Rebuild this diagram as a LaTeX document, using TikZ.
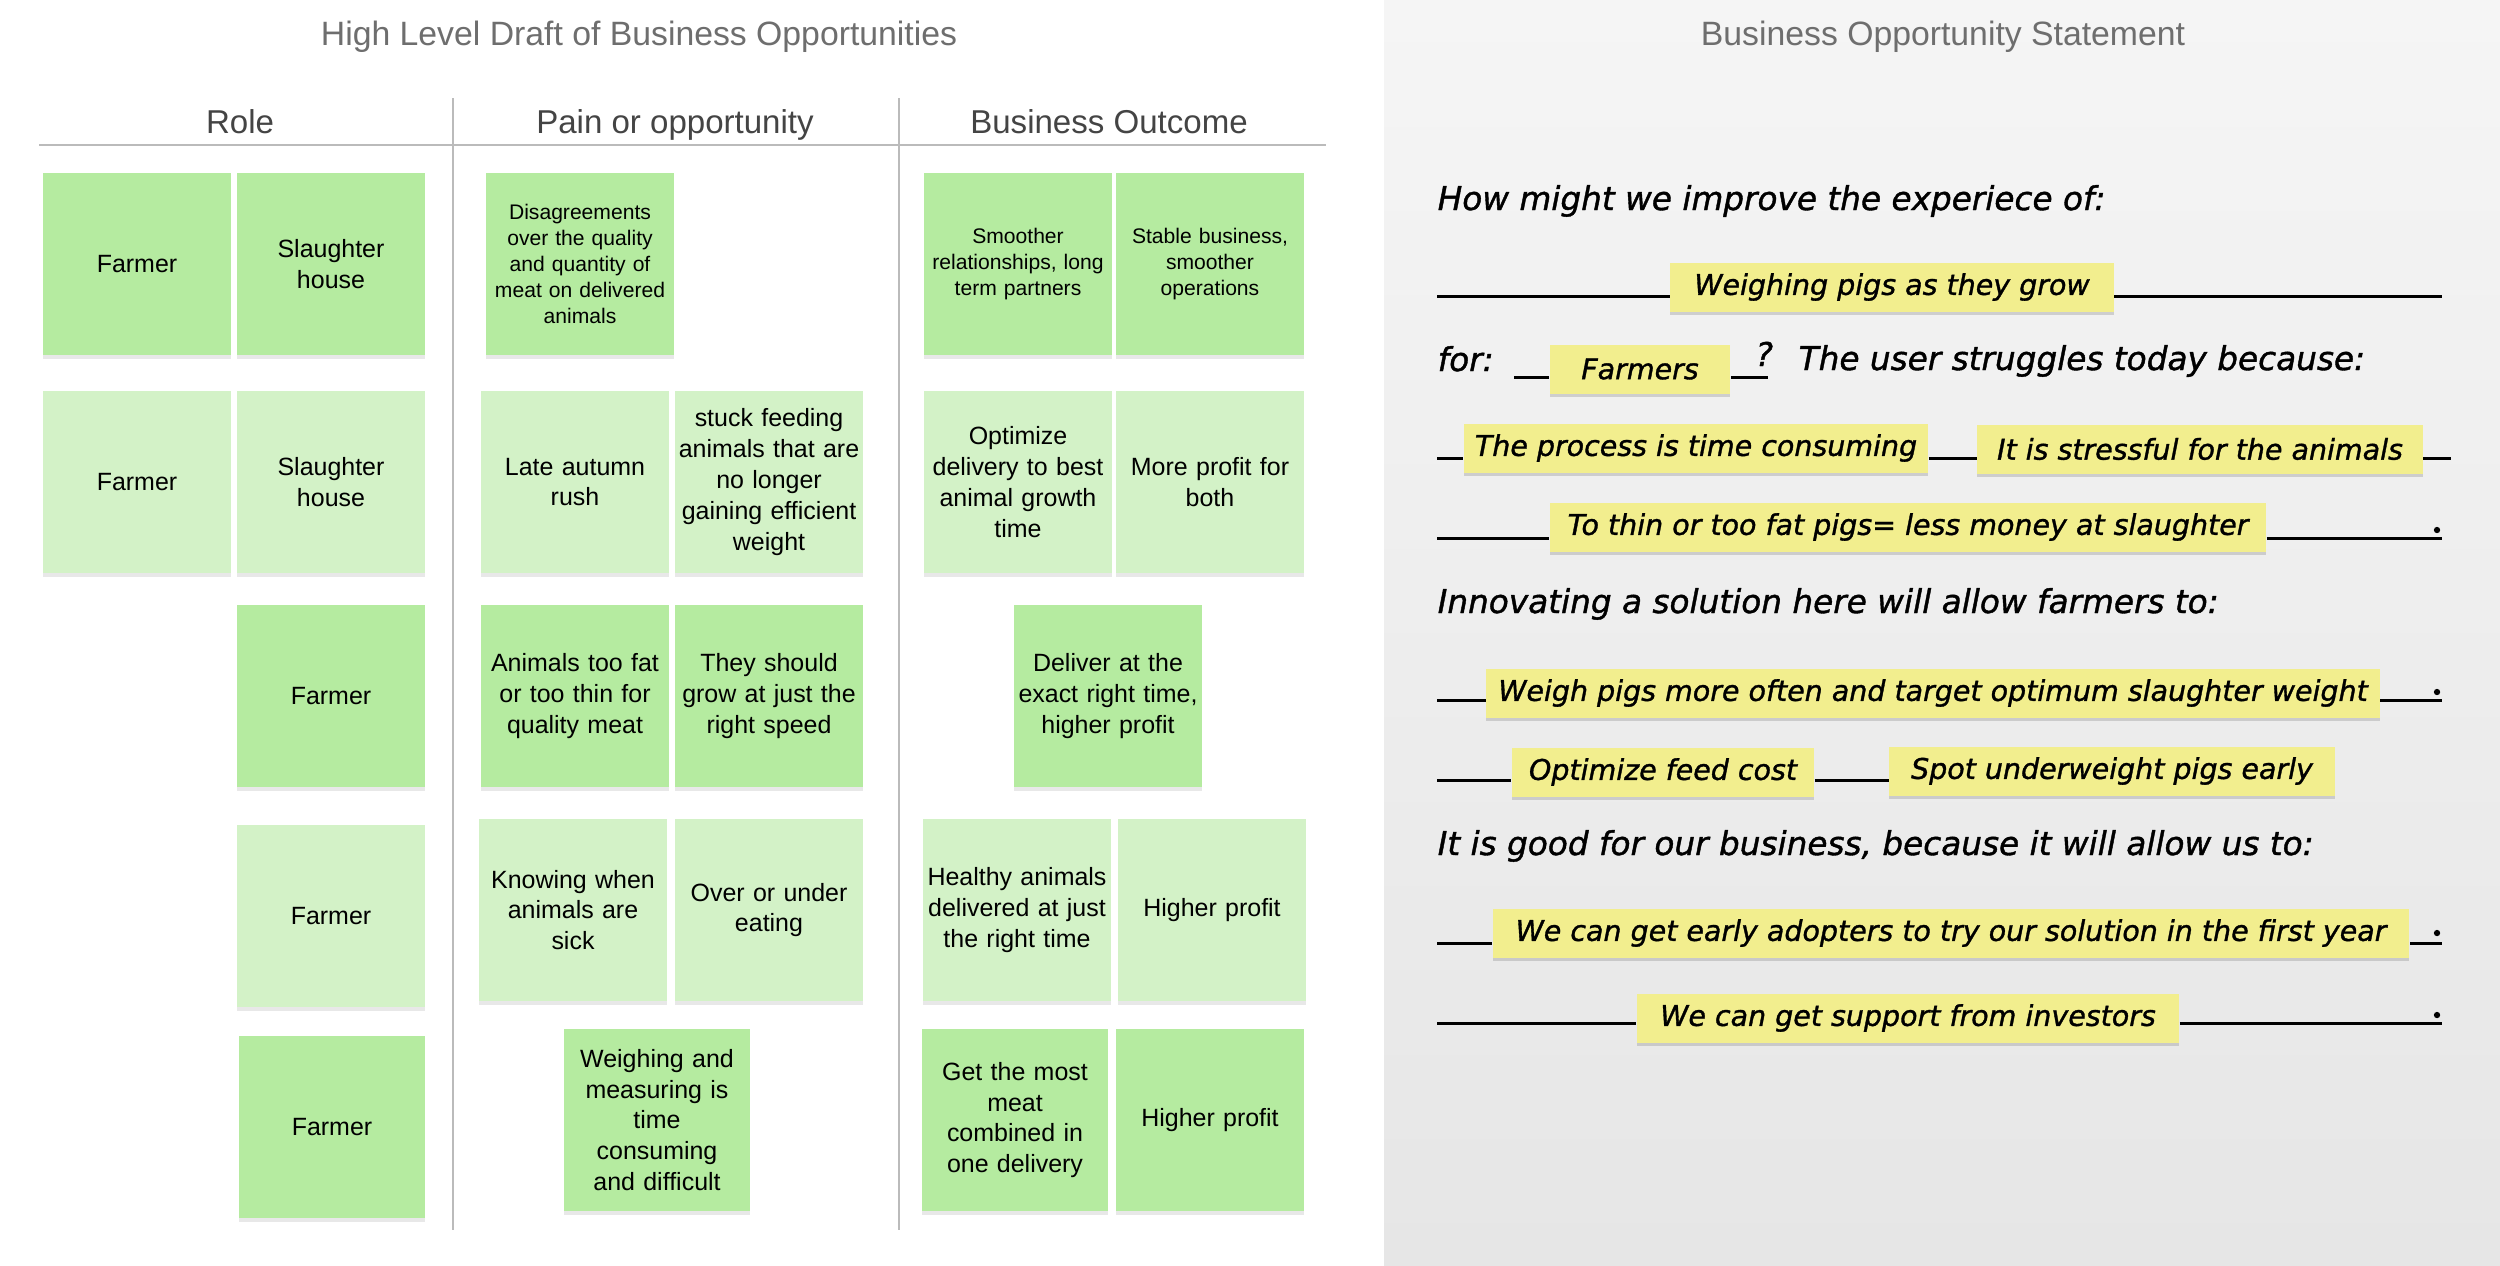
\documentclass[tikz,border=0pt]{standalone}
\usepackage{fontspec}
\setmainfont{Liberation Sans}
\newfontfamily\handfont{DejaVu Sans}[FakeBold=1.2]
\usetikzlibrary{shadows}

\definecolor{notegreen}{HTML}{B5EBA0}
\definecolor{notepale}{HTML}{D3F2C7}
\definecolor{noteyellow}{HTML}{F2EE8E}
\definecolor{rulegray}{HTML}{BBBBBB}
\definecolor{titlegray}{HTML}{6E6E6E}
\definecolor{headgray}{HTML}{444444}
\definecolor{paneltop}{HTML}{F5F5F5}
\definecolor{panelbottom}{HTML}{E6E6E6}

\tikzset{
  note/.style={fill=notegreen, minimum width=1.87cm, minimum height=1.82cm,
    text width=1.86cm, align=center, inner sep=0pt,
    font=\fontsize{7.1}{8.8}\selectfont,
    drop shadow={shadow xshift=0pt, shadow yshift=-1pt, opacity=0.18}},
  palenote/.style={note, fill=notepale},
  smallnote/.style={font=\fontsize{6}{7.4}\selectfont},
  hnote/.style={fill=noteyellow, minimum height=0.49cm, inner sep=0pt,
    font=\handfont\itshape\fontsize{8.1}{10}\selectfont,
    drop shadow={shadow xshift=0pt, shadow yshift=-1pt, opacity=0.3}},
  hand/.style={anchor=base west, inner sep=0pt,
    font=\handfont\itshape\fontsize{9.3}{11}\selectfont},
  hline/.style={line width=0.85pt},
  title/.style={anchor=base, text=titlegray, font=\fontsize{9.6}{11}\selectfont},
  head/.style={anchor=base, text=headgray, font=\fontsize{9.4}{11}\selectfont}
}

\begin{document}
\begin{tikzpicture}[x=0.01cm, y=-0.01cm]

  % Panels
  \useasboundingbox (0,0) rectangle (2500,1265);
  \fill[white] (0,0) rectangle (1384,1265);
  \shade[top color=paneltop, bottom color=panelbottom] (1384,0) rectangle (2500,1265);

  % Left: draft of opportunities
  \node[title] (drafttitle) at (639,45) {High Level Draft of Business Opportunities};
  \node[head] (rolehead) at (240,133) {Role};
  \node[head] (painhead) at (675,133) {Pain or opportunity};
  \node[head] (outcomehead) at (1109,133) {Business Outcome};

  \draw[rulegray, line width=0.6pt] (39,145) -- (1326,145);
  \draw[rulegray, line width=0.6pt] (453,98) -- (453,1230);
  \draw[rulegray, line width=0.6pt] (899,98) -- (899,1230);

  % Row 1
  \node[note] (role1a) at (137,264) {Farmer};
  \node[note] (role1b) at (331,264) {Slaughter\\house};
  \node[note, smallnote] (pain1) at (580,264) {Disagreements\\over the quality\\and quantity of\\meat on delivered\\animals};
  \node[note, smallnote] (out1a) at (1018,264) {Smoother\\relationships, long\\term partners};
  \node[note, smallnote] (out1b) at (1210,264) {Stable business,\\smoother\\operations};

  % Row 2
  \node[palenote] (role2a) at (137,482) {Farmer};
  \node[palenote] (role2b) at (331,482) {Slaughter\\house};
  \node[palenote] (pain2a) at (575,482) {Late autumn\\rush};
  \node[palenote] (pain2b) at (769,482) {stuck feeding\\animals that are\\no longer\\gaining efficient\\weight};
  \node[palenote] (out2a) at (1018,482) {Optimize\\delivery to best\\animal growth\\time};
  \node[palenote] (out2b) at (1210,482) {More profit for\\both};

  % Row 3
  \node[note] (role3) at (331,696) {Farmer};
  \node[note] (pain3a) at (575,696) {Animals too fat\\or too thin for\\quality meat};
  \node[note] (pain3b) at (769,696) {They should\\grow at just the\\right speed};
  \node[note] (out3) at (1108,696) {Deliver at the\\exact right time,\\higher profit};

  % Row 4
  \node[palenote] (role4) at (331,916) {Farmer};
  \node[palenote] (pain4a) at (573,910) {Knowing when\\animals are\\sick};
  \node[palenote] (pain4b) at (769,910) {Over or under\\eating};
  \node[palenote] (out4a) at (1017,910) {Healthy animals\\delivered at just\\the right time};
  \node[palenote] (out4b) at (1212,910) {Higher profit};

  % Row 5
  \node[note, minimum width=1.83cm] (role5) at (332,1127) {Farmer};
  \node[note, minimum width=1.83cm] (pain5) at (657,1120) {Weighing and\\measuring is\\time\\consuming\\and difficult};
  \node[note, minimum width=1.83cm] (out5a) at (1015,1120) {Get the most\\meat\\combined in\\one delivery};
  \node[note] (out5b) at (1210,1120) {Higher profit};

  % Right: opportunity statement
  \node[title] (stmttitle) at (1943,45) {Business Opportunity Statement};

  \node[hand] (howmight) at (1437,210) {How might we improve the experiece of:};
  \node[hnote, minimum width=4.43cm] (exp) at (1892,287) {Weighing pigs as they grow};
  \coordinate (expL) at (1437,296);
  \coordinate (expR) at (2442,296);
  \draw[hline] (expL) -- (expL -| exp.west);
  \draw[hline] (exp.east |- expR) -- (expR);

  \node[hand] (forword) at (1437,371) {for:};
  \node[hnote, minimum width=1.80cm] (users) at (1640,369) {Farmers};
  \coordinate (forL) at (1514,377);
  \coordinate (forR) at (1768,377);
  \draw[hline] (forL) -- (forL -| users.west);
  \draw[hline] (users.east |- forR) -- (forR);
  \node[hand] (qmark) at (1755,366) {?};
  \node[hand] (struggle) at (1798,370) {The user struggles today because:};

  \node[hnote, minimum width=4.64cm] (proc) at (1696,448) {The process is time consuming};
  \node[hnote, minimum width=4.45cm] (stress) at (2200,449) {It is stressful for the animals};
  \coordinate (procL) at (1437,458);
  \coordinate (procR) at (2451,458);
  \draw[hline] (procL) -- (procL -| proc.west);
  \draw[hline] (proc.east |- procL) -- (procL -| stress.west);
  \draw[hline] (stress.east |- procR) -- (procR);

  \node[hnote, minimum width=7.16cm] (thin) at (1908,527) {To thin or too fat pigs= less money at slaughter};
  \coordinate (thinL) at (1437,538);
  \coordinate (thinR) at (2442,538);
  \draw[hline] (thinL) -- (thinL -| thin.west);
  \draw[hline] (thin.east |- thinR) -- (thinR);
  \fill (2437,530) circle (0.9pt);

  \node[hand] (innovate) at (1437,613) {Innovating a solution here will allow farmers to:};

  \node[hnote, minimum width=8.93cm] (weigh) at (1933,693) {Weigh pigs more often and target optimum slaughter weight};
  \coordinate (weighL) at (1437,700);
  \coordinate (weighR) at (2442,700);
  \draw[hline] (weighL) -- (weighL -| weigh.west);
  \draw[hline] (weigh.east |- weighR) -- (weighR);
  \fill (2437,692) circle (0.9pt);

  \node[hnote, minimum width=3.02cm] (feed) at (1663,772) {Optimize feed cost};
  \node[hnote, minimum width=4.45cm] (spot) at (2112,771) {Spot underweight pigs early};
  \coordinate (feedL) at (1437,780);
  \draw[hline] (feedL) -- (feedL -| feed.west);
  \draw[hline] (feed.east |- feedL) -- (feedL -| spot.west);

  \node[hand] (goodfor) at (1437,855) {It is good for our business, because it will allow us to:};

  \node[hnote, minimum width=9.16cm] (adopt) at (1951,933) {We can get early adopters to try our solution in the first year};
  \coordinate (adoptL) at (1437,943);
  \coordinate (adoptR) at (2442,943);
  \draw[hline] (adoptL) -- (adoptL -| adopt.west);
  \draw[hline] (adopt.east |- adoptR) -- (adoptR);
  \fill (2437,933) circle (0.9pt);

  \node[hnote, minimum width=5.42cm] (invest) at (1908,1018) {We can get support from investors};
  \coordinate (investL) at (1437,1023);
  \coordinate (investR) at (2442,1023);
  \draw[hline] (investL) -- (investL -| invest.west);
  \draw[hline] (invest.east |- investR) -- (investR);
  \fill (2437,1015) circle (0.9pt);

\end{tikzpicture}
\end{document}
